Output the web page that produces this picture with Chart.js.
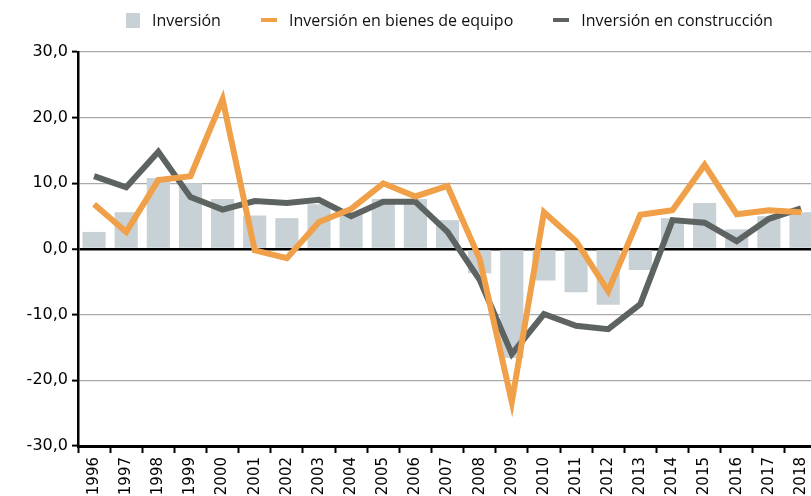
<!DOCTYPE html>
<html lang="es">
<head>
<meta charset="utf-8">
<title>Inversión</title>
<script src="https://cdn.jsdelivr.net/npm/chart.js@4.4.0/dist/chart.umd.min.js"></script>
<style>
  html, body { margin: 0; padding: 0; background: #fff; overflow: hidden; }
  .chart-wrap { position: relative; width: 823px; height: 496px; }
  .legend {
    position: absolute; top: 9px; left: 126px;
    display: flex; align-items: center;
    font: 500 16px "Open Sans", sans-serif; color: #111; white-space: nowrap;
  }
  .legend .item { display: flex; align-items: center; margin-right: 40px; }
  .legend .mark { margin-right: 12px; }
  .legend .box { width: 14px; height: 15px; }
  .legend .dash { width: 16px; height: 4px; }
</style>
</head>
<body>
<div class="chart-wrap">
  <canvas id="chart"></canvas>
  <div class="legend" id="legend"></div>
</div>
<script>
const years = ['1996', '1997', '1998', '1999', '2000', '2001', '2002', '2003', '2004', '2005', '2006', '2007',
  '2008', '2009', '2010', '2011', '2012', '2013', '2014', '2015', '2016', '2017', '2018'];

const inversion = [2.6, 5.6, 10.8, 10.0, 7.6, 5.1, 4.7, 6.8, 5.6, 7.6, 7.6, 4.4,
  -3.7, -16.6, -4.8, -6.6, -8.5, -3.2, 4.7, 7.0, 3.0, 5.0, 5.6];
const bienesEquipo = [6.8, 2.6, 10.5, 11.1, 22.8, -0.2, -1.4, 4.1, 6.1, 10.0, 8.0, 9.6,
  -1.5, -23.3, 5.6, 1.2, -6.4, 5.2, 5.9, 12.8, 5.3, 5.9, 5.6];
const construccion = [11.1, 9.4, 14.8, 7.9, 6.0, 7.3, 7.0, 7.5, 5.0, 7.2, 7.2, 2.6,
  -4.7, -16.0, -9.9, -11.7, -12.2, -8.4, 4.4, 4.0, 1.2, 4.6, 6.2];

const seriesNames = ['Inversión', 'Inversión en bienes de equipo', 'Inversión en construcción'];
const colors = ['#c8d1d6', '#f0a048', '#5d6361'];

const yTicks = [-30, -20, -10, 0, 10, 20, 30];

const ctx = document.getElementById('chart');

new Chart(ctx, {
  type: 'bar',
  data: {
    labels: years,
    datasets: [
      {
        label: seriesNames[0],
        data: inversion,
        backgroundColor: colors[0],
        categoryPercentage: 1,
        barPercentage: 0.72,
        order: 3,
      },
      {
        type: 'line',
        label: seriesNames[1],
        data: bienesEquipo,
        borderColor: colors[1],
        backgroundColor: colors[1],
        borderWidth: 6,
        borderJoinStyle: 'miter',
        pointRadius: 0,
        tension: 0,
        order: 1,
      },
      {
        type: 'line',
        label: seriesNames[2],
        data: construccion,
        borderColor: colors[2],
        backgroundColor: colors[2],
        borderWidth: 6,
        borderJoinStyle: 'miter',
        pointRadius: 0,
        tension: 0,
        order: 2,
      },
    ],
  },
  options: {
    responsive: true,
    maintainAspectRatio: false,
    animation: false,
    layout: { padding: { top: 52, left: 0, right: 0, bottom: 0 } },
    plugins: {
      legend: { display: false },
      tooltip: { enabled: false },
    },
    scales: {
      x: {
        offset: true,
        grid: {
          offset: true,
          drawOnChartArea: false,
          tickLength: 7,
          tickColor: '#000',
          tickWidth: 2,
        },
        border: { color: '#000', width: 3 },
        ticks: {
          minRotation: 90,
          maxRotation: 90,
          autoSkip: false,
          padding: 4,
          color: '#000',
          font: { family: '"DejaVu Sans", sans-serif', size: 15 },
        },
        afterFit: scale => { scale.height = 50; },
      },
      y: {
        min: yTicks[0],
        max: yTicks[yTicks.length - 1],
        afterBuildTicks: scale => { scale.ticks = yTicks.map(v => ({ value: v })); },
        grid: {
          color: c => (c.tick.value === 0 ? '#000' : (c.tick.value === -30 ? 'rgba(0,0,0,0)' : '#aaaaaa')),
          lineWidth: c => (c.tick.value === 0 ? 2.5 : 1.2),
          tickLength: 6,
          tickColor: '#000',
          tickWidth: 2,
        },
        border: { color: '#000', width: 2.5 },
        ticks: {
          padding: 4,
          color: '#000',
          font: { family: '"DejaVu Sans", sans-serif', size: 16 },
          callback: v => v.toFixed(1).replace('.', ','),
        },
        afterFit: scale => { scale.width = 78; },
      },
    },
  },
});

// html legend, same order as the datasets
const legend = document.getElementById('legend');
seriesNames.forEach((name, i) => {
  const item = document.createElement('div');
  item.className = 'item';
  const mark = document.createElement('span');
  mark.className = 'mark ' + (i === 0 ? 'box' : 'dash');
  mark.style.background = colors[i];
  const text = document.createElement('span');
  text.textContent = name;
  item.appendChild(mark);
  item.appendChild(text);
  legend.appendChild(item);
});
</script>
</body>
</html>
